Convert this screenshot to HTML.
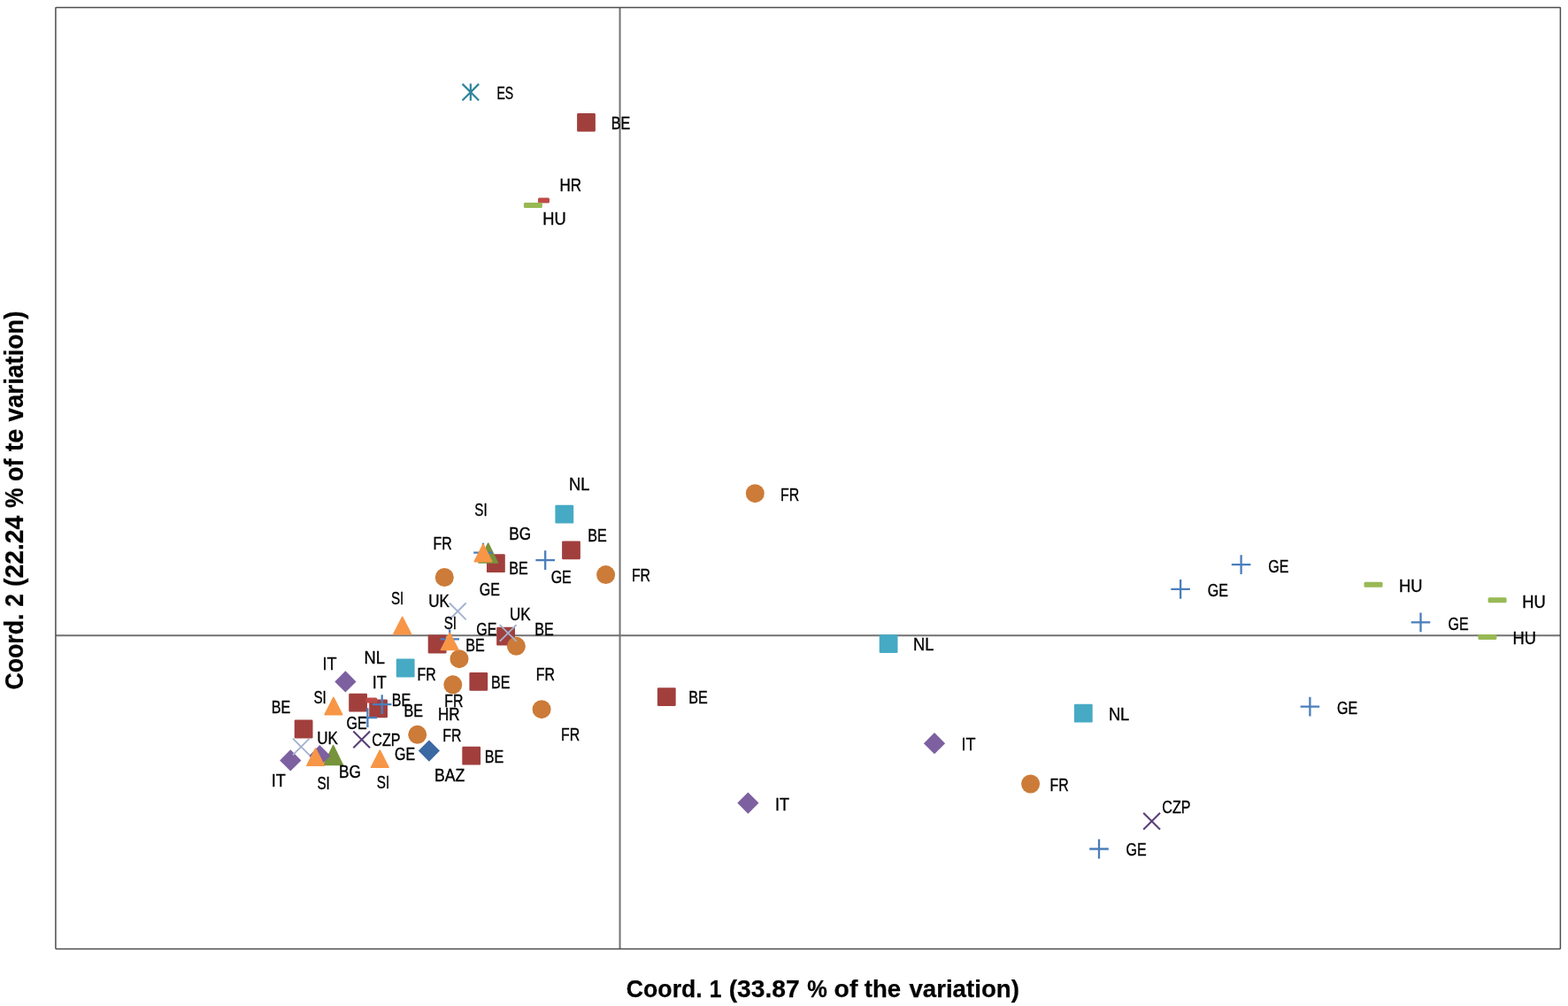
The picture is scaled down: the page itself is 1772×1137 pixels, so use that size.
<!DOCTYPE html>
<html lang="en">
<head>
<meta charset="utf-8">
<title>PCoA scatter plot</title>
<style>
html,body{margin:0;padding:0;background:#fff;}
body{width:1772px;height:1137px;overflow:hidden;}
svg{display:block;}
text{font-family:"Liberation Sans",sans-serif;fill:#000;}
.lab{font-size:19.9px;stroke:#000;stroke-width:0.35px;}
.ttl{font-size:28.5px;font-weight:bold;stroke:#000;stroke-width:0.25px;}
</style>
</head>
<body>
<svg width="1772" height="1137" viewBox="0 0 1772 1137">
<rect x="0" y="0" width="1772" height="1137" fill="#fff"/>
<g stroke="#727272" stroke-width="2" fill="none"><line x1="62.9" y1="718.3" x2="1763.4" y2="718.3"/><line x1="700.55" y1="8.6" x2="700.55" y2="1072.4"/></g>
<rect x="62.9" y="8.6" width="1700.5" height="1063.8" rx="0.6" fill="none" stroke="#4d4d4d" stroke-width="1.5"/>
<g id="markers">
<rect x="652.1" y="128" width="20.8" height="20.8" rx="1.2" fill="#A13F3D"/>
<rect x="635.1" y="611.5" width="20.8" height="20.8" rx="1.2" fill="#A13F3D"/>
<rect x="550" y="626.3" width="20.8" height="20.8" rx="1.2" fill="#A13F3D"/>
<rect x="483.7" y="717.6" width="20.8" height="20.8" rx="1.2" fill="#A13F3D"/>
<rect x="561.2" y="708.8" width="20.8" height="20.8" rx="1.2" fill="#A13F3D"/>
<rect x="530.4" y="759.9" width="20.8" height="20.8" rx="1.2" fill="#A13F3D"/>
<rect x="394.2" y="783.7" width="20.8" height="20.8" rx="1.2" fill="#A13F3D"/>
<rect x="417.2" y="790.5" width="20.8" height="20.8" rx="1.2" fill="#A13F3D"/>
<rect x="332.7" y="813.6" width="20.8" height="20.8" rx="1.2" fill="#A13F3D"/>
<rect x="522.3" y="843.8" width="20.8" height="20.8" rx="1.2" fill="#A13F3D"/>
<rect x="742.9" y="777.2" width="20.8" height="20.8" rx="1.2" fill="#A13F3D"/>
<rect x="608" y="223.4" width="13" height="6" rx="1.5" fill="#BE4B48"/>
<rect x="413.3" y="788.6" width="13" height="6" rx="1.5" fill="#BE4B48"/>
<circle cx="502.3" cy="652.5" r="10.5" fill="#CC7B38"/>
<circle cx="684.6" cy="649.6" r="10.5" fill="#CC7B38"/>
<circle cx="583.4" cy="730.3" r="10.5" fill="#CC7B38"/>
<circle cx="519" cy="744.7" r="10.5" fill="#CC7B38"/>
<circle cx="511.8" cy="773.8" r="10.5" fill="#CC7B38"/>
<circle cx="612.1" cy="801.7" r="10.5" fill="#CC7B38"/>
<circle cx="471.7" cy="830.3" r="10.5" fill="#CC7B38"/>
<circle cx="853.3" cy="557.7" r="10.5" fill="#CC7B38"/>
<circle cx="1164.6" cy="886" r="10.5" fill="#CC7B38"/>
<rect x="627.4" y="570.8" width="20.8" height="20.8" rx="1.2" fill="#46AAC5"/>
<rect x="447.8" y="744.6" width="20.8" height="20.8" rx="1.2" fill="#46AAC5"/>
<rect x="993.7" y="717.2" width="20.8" height="20.8" rx="1.2" fill="#46AAC5"/>
<rect x="1213.9" y="795.8" width="20.8" height="20.8" rx="1.2" fill="#46AAC5"/>
<path d="M551.7 614.02L562.42 636L540.98 636Z" fill="#77933C" stroke="#77933C" stroke-width="1.6" stroke-linejoin="round"/>
<path d="M376.6 842.52L387.32 864.5L365.88 864.5Z" fill="#77933C" stroke="#77933C" stroke-width="1.6" stroke-linejoin="round"/>
<path d="M605.4 633.2H627M616.2 622.3V644.1" stroke="#4A7EBB" stroke-width="2.3" fill="none"/>
<path d="M535.2 624.6H556.8M546 613.7V635.5" stroke="#4A7EBB" stroke-width="2.3" fill="none"/>
<path d="M497.4 722.3H519M508.2 711.4V733.2" stroke="#4A7EBB" stroke-width="2.3" fill="none"/>
<path d="M420.9 796.1H442.5M431.7 785.2V807" stroke="#4A7EBB" stroke-width="2.3" fill="none"/>
<path d="M404.6 811.2H426.2M415.4 800.3V822.1" stroke="#4A7EBB" stroke-width="2.3" fill="none"/>
<path d="M1323.3 665.8H1344.9M1334.1 654.9V676.7" stroke="#4A7EBB" stroke-width="2.3" fill="none"/>
<path d="M1391.8 638.1H1413.4M1402.6 627.2V649" stroke="#4A7EBB" stroke-width="2.3" fill="none"/>
<path d="M1594.7 703.3H1616.3M1605.5 692.4V714.2" stroke="#4A7EBB" stroke-width="2.3" fill="none"/>
<path d="M1469.6 798.6H1491.2M1480.4 787.7V809.5" stroke="#4A7EBB" stroke-width="2.3" fill="none"/>
<path d="M1231.2 959.5H1252.8M1242 948.6V970.4" stroke="#4A7EBB" stroke-width="2.3" fill="none"/>
<path d="M390.4 758.3L402.5 770.4L390.4 782.5L378.3 770.4Z" fill="#7D60A0"/>
<path d="M328.3 847.3L340.4 859.4L328.3 871.5L316.2 859.4Z" fill="#7D60A0"/>
<path d="M361.3 842.1L373.4 854.2L361.3 866.3L349.2 854.2Z" fill="#7D60A0"/>
<path d="M1056 828.1L1068.1 840.2L1056 852.3L1043.9 840.2Z" fill="#7D60A0"/>
<path d="M845.4 895.5L857.5 907.6L845.4 919.7L833.3 907.6Z" fill="#7D60A0"/>
<path d="M484.9 836.5L497 848.6L484.9 860.7L472.8 848.6Z" fill="#3B69A4"/>
<path d="M507.9 681.5L526.7 700.3M526.7 681.5L507.9 700.3" stroke="#A3B3CF" stroke-width="1.9" fill="none"/>
<path d="M564.8 706.1L583.6 724.9M583.6 706.1L564.8 724.9" stroke="#A3B3CF" stroke-width="1.9" fill="none"/>
<path d="M330.9 834.6L349.7 853.4M349.7 834.6L330.9 853.4" stroke="#A3B3CF" stroke-width="1.9" fill="none"/>
<path d="M399.3 826.4L418.1 845.2M418.1 826.4L399.3 845.2" stroke="#5A4177" stroke-width="2.1" fill="none"/>
<path d="M1292.2 918.8L1311 937.6M1311 918.8L1292.2 937.6" stroke="#5A4177" stroke-width="2.1" fill="none"/>
<path d="M546 615.46L555.79 634.7L536.21 634.7Z" fill="#F79646" stroke="#F79646" stroke-width="1.6" stroke-linejoin="round"/>
<path d="M454.7 697.46L464.49 716.7L444.91 716.7Z" fill="#F79646" stroke="#F79646" stroke-width="1.6" stroke-linejoin="round"/>
<path d="M508.2 715.26L517.99 734.5L498.41 734.5Z" fill="#F79646" stroke="#F79646" stroke-width="1.6" stroke-linejoin="round"/>
<path d="M376.9 788.46L386.69 807.7L367.11 807.7Z" fill="#F79646" stroke="#F79646" stroke-width="1.6" stroke-linejoin="round"/>
<path d="M356.6 846.06L366.39 865.3L346.81 865.3Z" fill="#F79646" stroke="#F79646" stroke-width="1.6" stroke-linejoin="round"/>
<path d="M429.3 848.06L439.09 867.3L419.51 867.3Z" fill="#F79646" stroke="#F79646" stroke-width="1.6" stroke-linejoin="round"/>
<rect x="591.9" y="228.9" width="21" height="6" rx="1.5" fill="#98B954"/>
<rect x="1541.5" y="657.8" width="21" height="6" rx="1.5" fill="#98B954"/>
<rect x="1681.6" y="675.3" width="21" height="6" rx="1.5" fill="#98B954"/>
<rect x="1670.4" y="716.9" width="21" height="6" rx="1.5" fill="#98B954"/>
<path d="M522.55 94.85L541.15 113.45M541.15 94.85L522.55 113.45M531.85 94.55V113.75" stroke="#31859C" stroke-width="2.2" fill="none"/>
</g>
<g id="labels" class="lab">
<text transform="translate(561.39 111.86) scale(0.7062 1)">ES</text>
<text transform="translate(690.81 146.12) scale(0.8104 1)">BE</text>
<text transform="translate(632.46 216.42) scale(0.8555 1)">HR</text>
<text transform="translate(613.13 253.88) scale(0.9229 1)">HU</text>
<text transform="translate(642.98 554.28) scale(0.9189 1)">NL</text>
<text transform="translate(536.3 583.28) scale(0.7659 1)">SI</text>
<text transform="translate(575.27 609.58) scale(0.8644 1)">BG</text>
<text transform="translate(664.16 611.58) scale(0.8104 1)">BE</text>
<text transform="translate(489.48 621.28) scale(0.7979 1)">FR</text>
<text transform="translate(575.36 649.48) scale(0.8104 1)">BE</text>
<text transform="translate(622.67 658.98) scale(0.8056 1)">GE</text>
<text transform="translate(541.87 672.68) scale(0.8056 1)">GE</text>
<text transform="translate(713.88 657.48) scale(0.7979 1)">FR</text>
<text transform="translate(441.9 682.78) scale(0.7659 1)">SI</text>
<text transform="translate(484.29 685.68) scale(0.8560 1)">UK</text>
<text transform="translate(501.7 710.78) scale(0.7659 1)">SI</text>
<text transform="translate(575.99 701.38) scale(0.8560 1)">UK</text>
<text transform="translate(538.27 718.28) scale(0.8056 1)">GE</text>
<text transform="translate(604.16 717.98) scale(0.8104 1)">BE</text>
<text transform="translate(526.26 735.58) scale(0.8104 1)">BE</text>
<text transform="translate(411.48 750.08) scale(0.9189 1)">NL</text>
<text transform="translate(364.47 756.58) scale(0.9073 1)">IT</text>
<text transform="translate(471.48 769.28) scale(0.7979 1)">FR</text>
<text transform="translate(420.67 777.98) scale(0.9073 1)">IT</text>
<text transform="translate(555.06 778.18) scale(0.8104 1)">BE</text>
<text transform="translate(605.68 769.18) scale(0.7979 1)">FR</text>
<text transform="translate(354.4 794.78) scale(0.7659 1)">SI</text>
<text transform="translate(442.76 797.88) scale(0.8104 1)">BE</text>
<text transform="translate(456.56 810.08) scale(0.8104 1)">BE</text>
<text transform="translate(306.66 806.38) scale(0.8104 1)">BE</text>
<text transform="translate(502.28 798.68) scale(0.7979 1)">FR</text>
<text transform="translate(494.88 813.68) scale(0.8555 1)">HR</text>
<text transform="translate(358.19 840.88) scale(0.8560 1)">UK</text>
<text transform="translate(391.57 824.38) scale(0.8056 1)">GE</text>
<text transform="translate(420.27 843.48) scale(0.8093 1)">CZP</text>
<text transform="translate(500.28 838.08) scale(0.7979 1)">FR</text>
<text transform="translate(383.07 879.28) scale(0.8644 1)">BG</text>
<text transform="translate(306.67 889.38) scale(0.9073 1)">IT</text>
<text transform="translate(358.4 891.88) scale(0.7659 1)">SI</text>
<text transform="translate(425.8 891.38) scale(0.7659 1)">SI</text>
<text transform="translate(445.97 858.78) scale(0.8056 1)">GE</text>
<text transform="translate(491.03 882.88) scale(0.8863 1)">BAZ</text>
<text transform="translate(547.66 862.18) scale(0.8104 1)">BE</text>
<text transform="translate(634.08 836.98) scale(0.7979 1)">FR</text>
<text transform="translate(882.08 566.28) scale(0.7979 1)">FR</text>
<text transform="translate(1031.98 735.48) scale(0.9189 1)">NL</text>
<text transform="translate(778.26 795.48) scale(0.8104 1)">BE</text>
<text transform="translate(1086.57 848.38) scale(0.9073 1)">IT</text>
<text transform="translate(876.02 915.68) scale(0.9073 1)">IT</text>
<text transform="translate(1252.88 813.88) scale(0.9189 1)">NL</text>
<text transform="translate(1511.07 806.98) scale(0.8056 1)">GE</text>
<text transform="translate(1186.48 894.08) scale(0.7979 1)">FR</text>
<text transform="translate(1313.37 918.68) scale(0.8093 1)">CZP</text>
<text transform="translate(1272.47 967.12) scale(0.8056 1)">GE</text>
<text transform="translate(1364.77 674.18) scale(0.8056 1)">GE</text>
<text transform="translate(1433.27 646.68) scale(0.8056 1)">GE</text>
<text transform="translate(1580.93 668.88) scale(0.9229 1)">HU</text>
<text transform="translate(1720.28 686.98) scale(0.9229 1)">HU</text>
<text transform="translate(1636.47 711.68) scale(0.8056 1)">GE</text>
<text transform="translate(1709.58 728.48) scale(0.9229 1)">HU</text>
</g>
<text id="xtitle" class="ttl" y="1126.58"><tspan x="707.87" textLength="85.83" lengthAdjust="spacingAndGlyphs">Coord.</tspan> <tspan x="801.81" textLength="13.7" lengthAdjust="spacingAndGlyphs">1</tspan> <tspan x="823.66" textLength="80.09" lengthAdjust="spacingAndGlyphs">(33.87</tspan> <tspan x="912.36" textLength="22.56" lengthAdjust="spacingAndGlyphs">%</tspan> <tspan x="942.61" textLength="26.78" lengthAdjust="spacingAndGlyphs">of</tspan> <tspan x="976.76" textLength="41.28" lengthAdjust="spacingAndGlyphs">the</tspan> <tspan x="1027.4" textLength="124.54" lengthAdjust="spacingAndGlyphs">variation)</tspan></text>
<text id="ytitle" class="ttl" style="font-size:29.2px" transform="translate(26.18 0) rotate(-90)" y="0"><tspan x="-779.62" textLength="86.07" lengthAdjust="spacingAndGlyphs">Coord.</tspan> <tspan x="-685.78" textLength="14.65" lengthAdjust="spacingAndGlyphs">2</tspan> <tspan x="-662.93" textLength="80.14" lengthAdjust="spacingAndGlyphs">(22.24</tspan> <tspan x="-574.03" textLength="22.51" lengthAdjust="spacingAndGlyphs">%</tspan> <tspan x="-543.92" textLength="25.53" lengthAdjust="spacingAndGlyphs">of</tspan> <tspan x="-510.25" textLength="25.66" lengthAdjust="spacingAndGlyphs">te</tspan> <tspan x="-476.59" textLength="125.1" lengthAdjust="spacingAndGlyphs">variation)</tspan></text>
</svg>
</body>
</html>
